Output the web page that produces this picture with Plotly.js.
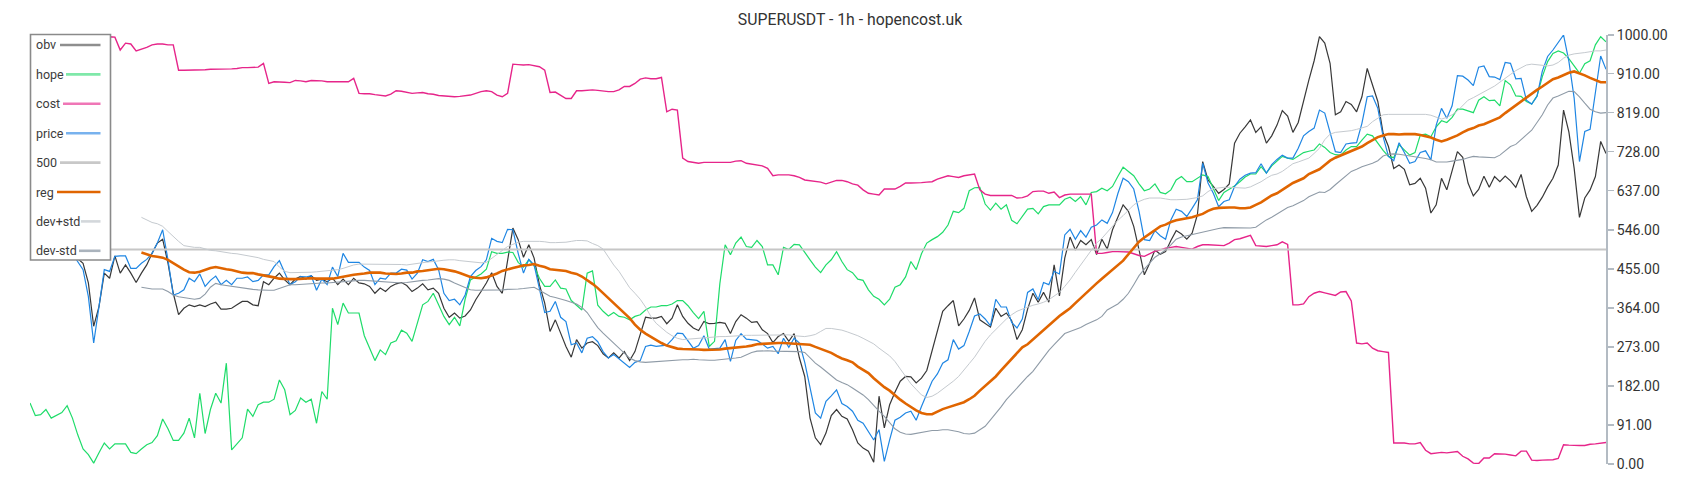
<!DOCTYPE html>
<html><head><meta charset="utf-8">
<script src="https://cdn.plot.ly/plotly-3.0.1.min.js"></script>
<style>html,body{margin:0;padding:0;background:#fff}#chart{width:1700px;height:500px}</style>
</head><body><div id="chart"></div>
<script>
const titleText = "SUPERUSDT - 1h - hopencost.uk";
const seriesNames = ["obv","hope","cost","price","500","reg","dev+std","dev-std"];
const yTicks = [0, 91, 182, 273, 364, 455, 546, 637, 728, 819, 910, 1000];

const obv = [
480,495,505,500,515,505,495,500,490,478,
468,422,321,367,445,433,485,445,464,445,
423,445,464,491,515,524,468,398,348,363,
371,367,371,367,373,377,361,361,363,371,
379,379,371,369,425,418,433,445,429,418,
431,437,431,439,428,431,425,433,418,431,
418,433,422,420,414,398,410,402,414,420,
423,416,402,410,420,406,410,398,363,342,
352,340,345,359,383,402,422,446,414,398,
476,550,523,482,511,480,418,375,309,336,
305,274,249,290,270,282,285,276,257,247,
259,247,262,241,262,305,342,340,340,344,
327,340,371,344,328,317,311,332,327,328,
330,328,304,332,348,340,330,332,313,304,
283,297,304,286,304,247,204,107,61,45,
72,113,127,111,105,80,49,37,30,4,
158,84,138,167,193,204,203,189,200,218,
266,309,356,369,381,322,338,358,387,336,
327,319,363,344,352,334,290,313,361,398,
377,400,377,464,392,480,529,499,521,511,
523,488,524,501,546,577,604,589,554,499,
441,468,499,489,495,521,544,536,524,538,
581,705,662,647,631,640,653,748,771,786,
802,773,786,748,765,790,824,811,773,796,
849,895,940,996,981,934,814,821,845,838,
821,856,922,884,845,771,740,689,697,687,
651,654,666,643,585,604,666,639,686,728,
715,655,625,640,671,645,670,658,671,660,
645,675,623,589,603,622,646,666,697,825,
774,689,575,620,639,670,752,724];

const hope = [
142,113,115,127,107,113,120,136,107,68,
35,22,2,26,49,35,47,47,47,27,
24,35,45,50,66,105,82,55,55,72,
107,61,165,71,127,165,142,235,33,47,
61,128,111,138,144,144,151,196,173,115,
125,154,144,151,95,169,151,363,325,375,
352,352,352,299,270,241,266,255,282,287,
312,305,286,328,371,379,398,371,344,325,
342,322,384,429,436,443,454,495,491,491,
494,493,470,459,476,462,433,414,414,429,
410,408,381,371,359,445,450,370,356,345,
353,344,342,336,344,348,359,366,366,369,
369,373,381,381,369,353,339,356,274,286,
420,511,488,515,529,507,505,521,507,464,
464,441,505,500,512,511,492,476,459,446,
464,476,495,472,453,446,431,428,406,391,
384,371,384,412,418,436,472,453,490,515,
523,530,540,557,589,586,596,637,644,645,
606,592,608,594,604,568,560,577,594,596,
583,600,604,604,604,617,622,612,623,604,
633,635,643,637,647,670,692,682,672,653,
637,641,653,633,630,639,662,670,658,658,
666,674,670,641,614,633,640,648,658,669,
676,676,693,678,695,705,717,713,710,718,
726,729,732,746,738,726,721,720,732,740,
740,755,769,765,748,731,717,714,744,733,
720,726,767,769,763,786,800,796,808,827,
827,823,819,848,856,847,848,835,894,884,
858,857,845,839,858,903,938,957,963,958,
945,928,911,933,940,977,996,984];

const cost = [
1000,1000,999,1000,1000,1000,1000,1000,1000,998,
997,996,996,995,995,996,995,965,981,979,
963,967,971,977,979,979,977,977,918,918,
918,918,918,919,920,920,920,920,921,922,
924,924,924,925,934,887,891,891,890,889,
894,893,891,894,894,893,891,891,891,891,
891,899,864,863,863,861,859,858,862,870,
869,866,864,865,866,863,862,859,858,856,
856,857,858,860,864,868,870,868,860,856,
864,932,931,930,931,928,926,918,866,867,
860,852,852,870,870,871,872,871,869,868,
868,872,880,880,887,897,900,898,898,901,
821,827,825,713,705,703,701,703,703,704,
704,703,703,706,707,701,699,697,695,689,
672,674,674,674,672,668,662,660,658,657,
653,657,661,661,658,653,650,639,631,629,
627,641,641,641,647,655,655,655,656,657,
658,664,668,672,670,668,672,674,676,639,
629,626,626,626,626,626,620,621,625,635,
636,636,631,634,621,627,629,629,629,629,
629,491,491,493,495,495,495,494,490,486,
484,491,496,499,503,505,507,505,503,501,
507,511,511,510,509,509,515,523,525,529,
533,509,508,507,509,511,518,512,371,371,
373,390,398,402,399,396,393,401,402,380,
282,280,282,270,264,262,260,49,49,49,
47,47,50,32,24,26,27,26,27,29,
18,12,2,1,14,14,24,24,23,21,
19,30,30,9,8,9,10,10,13,45,
44,43,43,43,46,47,49,50];

const price = [
495,500,505,495,500,510,505,500,490,472,
453,390,282,367,453,449,484,485,485,456,
456,468,477,491,515,546,476,394,398,406,
433,425,443,414,428,438,418,428,418,433,
433,436,425,428,441,441,460,474,446,418,
425,437,436,439,405,431,418,459,437,491,
470,470,470,459,451,418,433,431,445,445,
454,452,431,445,476,472,477,453,398,381,
384,371,394,437,451,460,476,526,519,516,
547,546,491,445,477,464,410,353,356,379,
342,332,278,282,259,293,297,285,262,247,
255,245,235,225,237,241,274,277,274,276,
277,290,305,304,286,270,276,299,268,269,
270,290,239,288,304,291,290,288,280,270,
274,257,293,272,293,282,237,177,119,107,
146,159,173,141,134,123,102,95,76,56,
80,6,56,102,109,119,123,102,134,165,
193,210,235,243,290,268,276,309,345,350,
338,322,384,366,366,330,317,338,400,408,
383,423,418,449,443,534,547,524,544,529,
552,557,569,561,586,630,666,658,641,589,
523,521,544,532,524,569,594,589,577,596,
616,701,655,631,600,612,616,647,664,673,
678,679,700,678,698,710,720,713,713,736,
765,775,783,825,818,773,728,726,746,748,
749,794,856,858,829,763,717,707,749,726,
701,705,726,730,709,790,829,806,835,905,
904,895,882,925,928,903,902,896,936,934,
898,899,848,839,857,916,950,965,984,1000,
939,853,705,775,780,872,951,920];

const level500 = [500, 500];

const regStart = 21;
const reg = [
493,489,485,483,481,476,468,459,453,
447,446,448,453,457,459,456,454,452,449,
446,445,445,442,440,438,435,432,431,431,
431,432,432,433,432,432,431,432,434,437,
439,441,442,444,446,446,446,444,443,443,
444,446,446,449,450,452,453,455,454,452,
449,445,440,436,434,433,435,439,444,450,
454,457,460,463,464,466,462,459,454,453,
451,450,446,443,437,429,420,410,398,387,
375,363,352,340,325,313,304,296,288,282,
276,273,269,268,268,268,267,266,266,266,
267,269,270,272,273,274,276,279,280,281,
282,282,282,281,280,279,278,278,273,268,
263,259,252,246,242,237,227,220,212,200,
189,179,171,160,150,141,132,125,119,116,
116,122,128,132,136,139,144,151,159,171,
182,193,204,218,232,245,259,272,279,290,
303,314,325,335,345,354,363,375,387,398,
410,421,432,443,452,463,474,489,504,518,
528,536,546,554,558,564,568,571,573,575,
579,583,590,595,597,598,598,598,596,596,
598,604,610,618,626,631,640,647,655,661,
666,676,682,687,697,707,714,719,724,729,
734,740,748,755,762,766,769,769,768,769,
769,769,767,764,761,756,752,756,761,766,
773,779,783,789,792,797,802,808,818,827,
837,847,855,864,872,880,889,897,901,907,
912,915,911,906,900,895,890,890];

const devPlus = [
575,568,563,560,554,542,530,519,509,
507,505,505,501,498,497,495,492,491,490,
488,485,483,481,477,475,472,459,449,446,
446,446,446,447,448,449,450,451,453,456,
460,464,466,466,466,466,466,466,466,465,
465,464,466,468,470,471,472,474,475,476,
476,474,473,471,470,469,470,479,490,499,
507,512,517,519,519,520,519,518,516,516,
516,517,519,521,521,520,514,509,501,482,
464,449,429,411,398,384,366,344,328,317,
307,299,293,290,291,293,293,294,295,296,
297,297,298,299,300,300,300,300,300,300,
300,301,301,301,299,298,297,299,302,309,
316,316,314,312,308,304,299,293,286,280,
270,260,252,239,221,204,187,174,161,155,
158,165,174,185,193,204,220,234,249,268,
286,301,313,327,338,348,356,361,366,370,
373,377,383,391,400,414,429,447,464,481,
499,515,526,540,554,568,579,592,604,612,
617,620,620,620,618,616,616,616,617,619,
621,625,635,642,644,645,645,644,643,643,
646,652,658,666,673,676,682,691,700,704,
709,713,724,736,756,769,773,774,775,777,
780,783,787,798,806,814,815,815,815,815,
815,816,816,815,813,808,804,808,814,823,
835,848,854,861,868,876,881,890,900,908,
917,923,930,932,931,930,928,930,936,946,
953,956,957,959,961,963,963,965];

const devMinus = [
412,410,408,408,408,402,394,390,388,
387,384,386,396,412,421,418,416,414,412,
410,408,407,406,405,405,405,409,414,418,
418,419,420,421,422,422,422,423,424,425,
427,428,428,428,427,426,425,425,423,422,
422,423,425,427,428,429,431,432,431,428,
422,417,411,406,405,405,405,405,405,406,
407,407,408,409,411,412,405,397,391,388,
385,381,377,373,365,353,335,318,305,293,
282,270,259,247,241,238,237,238,238,239,
240,241,242,243,243,244,243,242,242,242,
243,245,246,247,249,255,260,263,264,264,
263,263,262,262,262,262,260,247,235,226,
216,204,196,190,185,177,169,161,150,136,
123,111,97,82,74,70,69,71,74,76,
78,78,80,80,78,75,71,70,72,80,
88,103,117,133,150,164,177,190,204,216,
233,249,265,278,291,304,309,313,318,325,
330,336,344,359,366,373,384,398,418,439,
454,468,482,490,499,511,524,529,532,535,
538,541,544,547,549,551,551,550,550,550,
550,552,561,569,575,583,592,598,602,608,
614,623,629,634,633,640,651,662,673,682,
687,693,697,701,707,718,722,723,722,720,
718,717,714,712,709,704,704,704,706,708,
710,714,717,716,715,714,714,720,730,740,
745,755,767,778,795,814,837,853,858,864,
869,868,856,841,827,821,818,819];

const N = obv.length;
const xs = Array.from({length: N}, (_, i) => i);
const xsReg = xs.slice(regStart);

const lineColors = ["#383838", "#1fdc6a", "#e6258a", "#1f86e3", "#c6c6c6", "#e06500", "#c5cacf", "#8f9ba7"];
const lineWidths = [1.2, 1.2, 1.4, 1.2, 2, 2.6, 1, 1.1];
const legendColors = ["#8e8e8e", "#7fe8a9", "#ef76b6", "#78b2ee", "#c8c8c8", "#e06500", "#d3d7db", "#aab3bc"];

function tr(name, x, y, k) {
  return {type: "scatter", mode: "lines", name: name, x: x, y: y, showlegend: false,
    hoverinfo: "skip", line: {color: lineColors[k], width: lineWidths[k]}};
}

const traces = [
  tr(seriesNames[0], xs, obv, 0),
  tr(seriesNames[1], xs, hope, 1),
  tr(seriesNames[2], xs, cost, 2),
  tr(seriesNames[3], xs, price, 3),
  tr(seriesNames[4], [0, N - 1], level500, 4),
  tr(seriesNames[5], xsReg, reg, 5),
  tr(seriesNames[6], xsReg, devPlus, 6),
  tr(seriesNames[7], xsReg, devMinus, 7)
];

// plot area in pixels
const L = 30, R = 1606, T = 35, B = 464;
const px = x => (x - L) / (R - L);
const py = y => (B - y) / (B - T);

const shapes = [{type: "rect", xref: "paper", yref: "paper", layer: "above",
  x0: px(30.5), x1: px(110.5), y0: py(260), y1: py(34.5),
  fillcolor: "#ffffff", line: {color: "#8a8a8a", width: 1.6}}];
const annotations = [];
const lineStart = [60, 66, 63, 66, 60, 57, 81, 79];
seriesNames.forEach((nm, k) => {
  const yy = 45 + 29.4 * k;
  annotations.push({xref: "paper", yref: "paper", x: px(34), y: py(yy), xanchor: "left", yanchor: "middle",
    text: nm, showarrow: false, font: {family: "Roboto, sans-serif", size: 12.5, color: "#3c3c3c"}});
  shapes.push({type: "line", xref: "paper", yref: "paper", layer: "above",
    x0: px(lineStart[k]), x1: px(100.5), y0: py(yy), y1: py(yy),
    line: {color: legendColors[k], width: 2.6}});
});

const layout = {
  width: 1700, height: 500,
  margin: {l: L, r: 1700 - R, t: T, b: 500 - B, pad: 0},
  paper_bgcolor: "#ffffff", plot_bgcolor: "#ffffff",
  font: {family: "Roboto, sans-serif", color: "#333"},
  title: {text: titleText, x: 0.5, xref: "container", xanchor: "center", y: 0.962, yref: "container", yanchor: "middle",
    font: {family: "Roboto, sans-serif", size: 15.8, color: "#333"}},
  showlegend: false,
  xaxis: {range: [0, N - 1], visible: false, showgrid: false, zeroline: false, fixedrange: true},
  yaxis: {range: [0, 1000], side: "right", showgrid: false, zeroline: false,
    showline: true, linecolor: "#b3bbc3", linewidth: 2, ticks: "outside", ticklen: 6, tickwidth: 1.5, tickcolor: "#b3bbc3",
    tickvals: yTicks, ticktext: yTicks.map(v => v.toFixed(2)),
    tickfont: {family: "Roboto, sans-serif", size: 14, color: "#333"}, fixedrange: true},
  shapes: shapes,
  annotations: annotations
};

Plotly.newPlot("chart", traces, layout, {staticPlot: true, displayModeBar: false});
</script>
</body></html>
